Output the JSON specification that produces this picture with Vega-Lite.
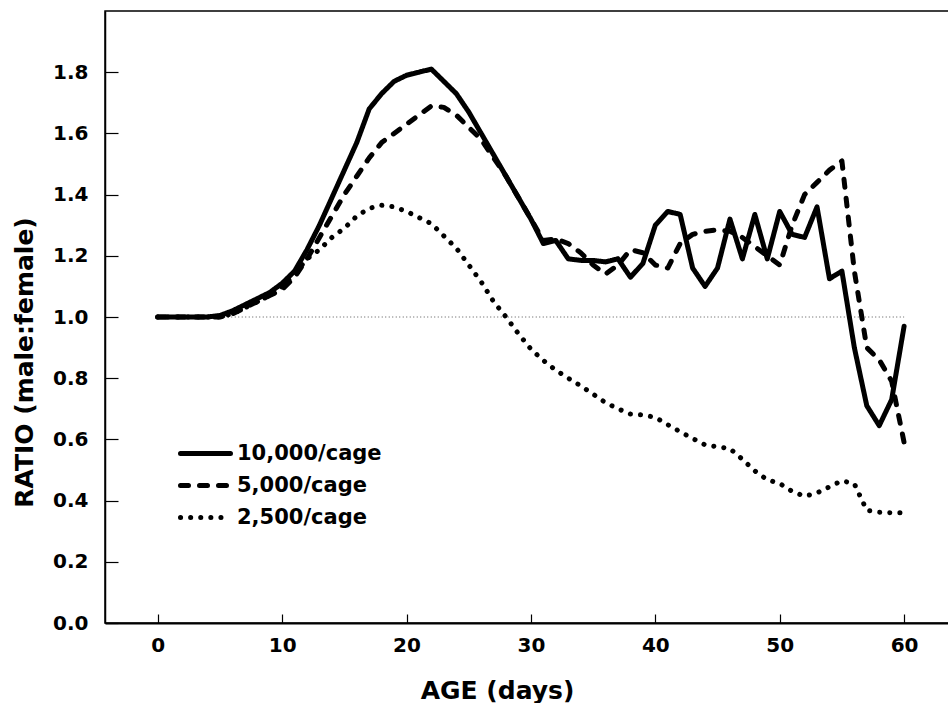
{
  "$schema": "https://vega.github.io/schema/vega-lite/v6.json",
  "autosize": "none",
  "width": 846,
  "height": 612,
  "padding": {"left": 105, "top": 11, "right": 0, "bottom": 80},
  "background": "white",
  "config": {
    "font": "DejaVu Sans",
    "view": {"stroke": "black", "strokeWidth": 1.5},
    "axis": {"grid": false, "domainColor": "black", "tickColor": "black", "labelColor": "black", "titleColor": "black", "labelFontWeight": "bold", "titleFontWeight": "bold", "labelFont": "DejaVu Sans", "titleFont": "DejaVu Sans"}
  },
  "datasets": {
    "series": [
      {"day": 0, "ratio": 1.0, "cage": "10,000/cage"},
      {"day": 1, "ratio": 1.0, "cage": "10,000/cage"},
      {"day": 2, "ratio": 1.0, "cage": "10,000/cage"},
      {"day": 3, "ratio": 1.0, "cage": "10,000/cage"},
      {"day": 4, "ratio": 1.0, "cage": "10,000/cage"},
      {"day": 5, "ratio": 1.005, "cage": "10,000/cage"},
      {"day": 6, "ratio": 1.02, "cage": "10,000/cage"},
      {"day": 7, "ratio": 1.04, "cage": "10,000/cage"},
      {"day": 8, "ratio": 1.06, "cage": "10,000/cage"},
      {"day": 9, "ratio": 1.08, "cage": "10,000/cage"},
      {"day": 10, "ratio": 1.11, "cage": "10,000/cage"},
      {"day": 11, "ratio": 1.15, "cage": "10,000/cage"},
      {"day": 12, "ratio": 1.22, "cage": "10,000/cage"},
      {"day": 13, "ratio": 1.30, "cage": "10,000/cage"},
      {"day": 14, "ratio": 1.39, "cage": "10,000/cage"},
      {"day": 15, "ratio": 1.48, "cage": "10,000/cage"},
      {"day": 16, "ratio": 1.57, "cage": "10,000/cage"},
      {"day": 17, "ratio": 1.68, "cage": "10,000/cage"},
      {"day": 18, "ratio": 1.73, "cage": "10,000/cage"},
      {"day": 19, "ratio": 1.77, "cage": "10,000/cage"},
      {"day": 20, "ratio": 1.79, "cage": "10,000/cage"},
      {"day": 21, "ratio": 1.80, "cage": "10,000/cage"},
      {"day": 22, "ratio": 1.81, "cage": "10,000/cage"},
      {"day": 23, "ratio": 1.77, "cage": "10,000/cage"},
      {"day": 24, "ratio": 1.73, "cage": "10,000/cage"},
      {"day": 25, "ratio": 1.67, "cage": "10,000/cage"},
      {"day": 26, "ratio": 1.60, "cage": "10,000/cage"},
      {"day": 27, "ratio": 1.53, "cage": "10,000/cage"},
      {"day": 28, "ratio": 1.46, "cage": "10,000/cage"},
      {"day": 29, "ratio": 1.39, "cage": "10,000/cage"},
      {"day": 30, "ratio": 1.32, "cage": "10,000/cage"},
      {"day": 31, "ratio": 1.24, "cage": "10,000/cage"},
      {"day": 32, "ratio": 1.25, "cage": "10,000/cage"},
      {"day": 33, "ratio": 1.19, "cage": "10,000/cage"},
      {"day": 34, "ratio": 1.185, "cage": "10,000/cage"},
      {"day": 35, "ratio": 1.185, "cage": "10,000/cage"},
      {"day": 36, "ratio": 1.18, "cage": "10,000/cage"},
      {"day": 37, "ratio": 1.19, "cage": "10,000/cage"},
      {"day": 38, "ratio": 1.13, "cage": "10,000/cage"},
      {"day": 39, "ratio": 1.175, "cage": "10,000/cage"},
      {"day": 40, "ratio": 1.30, "cage": "10,000/cage"},
      {"day": 41, "ratio": 1.345, "cage": "10,000/cage"},
      {"day": 42, "ratio": 1.335, "cage": "10,000/cage"},
      {"day": 43, "ratio": 1.16, "cage": "10,000/cage"},
      {"day": 44, "ratio": 1.10, "cage": "10,000/cage"},
      {"day": 45, "ratio": 1.16, "cage": "10,000/cage"},
      {"day": 46, "ratio": 1.32, "cage": "10,000/cage"},
      {"day": 47, "ratio": 1.19, "cage": "10,000/cage"},
      {"day": 48, "ratio": 1.335, "cage": "10,000/cage"},
      {"day": 49, "ratio": 1.19, "cage": "10,000/cage"},
      {"day": 50, "ratio": 1.345, "cage": "10,000/cage"},
      {"day": 51, "ratio": 1.27, "cage": "10,000/cage"},
      {"day": 52, "ratio": 1.26, "cage": "10,000/cage"},
      {"day": 53, "ratio": 1.36, "cage": "10,000/cage"},
      {"day": 54, "ratio": 1.125, "cage": "10,000/cage"},
      {"day": 55, "ratio": 1.15, "cage": "10,000/cage"},
      {"day": 56, "ratio": 0.90, "cage": "10,000/cage"},
      {"day": 57, "ratio": 0.71, "cage": "10,000/cage"},
      {"day": 58, "ratio": 0.645, "cage": "10,000/cage"},
      {"day": 59, "ratio": 0.73, "cage": "10,000/cage"},
      {"day": 60, "ratio": 0.97, "cage": "10,000/cage"},

      {"day": 0, "ratio": 1.0, "cage": "5,000/cage"},
      {"day": 1, "ratio": 1.0, "cage": "5,000/cage"},
      {"day": 2, "ratio": 1.0, "cage": "5,000/cage"},
      {"day": 3, "ratio": 1.0, "cage": "5,000/cage"},
      {"day": 4, "ratio": 1.0, "cage": "5,000/cage"},
      {"day": 5, "ratio": 1.0, "cage": "5,000/cage"},
      {"day": 6, "ratio": 1.01, "cage": "5,000/cage"},
      {"day": 7, "ratio": 1.03, "cage": "5,000/cage"},
      {"day": 8, "ratio": 1.05, "cage": "5,000/cage"},
      {"day": 9, "ratio": 1.07, "cage": "5,000/cage"},
      {"day": 10, "ratio": 1.09, "cage": "5,000/cage"},
      {"day": 11, "ratio": 1.13, "cage": "5,000/cage"},
      {"day": 12, "ratio": 1.19, "cage": "5,000/cage"},
      {"day": 13, "ratio": 1.26, "cage": "5,000/cage"},
      {"day": 14, "ratio": 1.33, "cage": "5,000/cage"},
      {"day": 15, "ratio": 1.40, "cage": "5,000/cage"},
      {"day": 16, "ratio": 1.46, "cage": "5,000/cage"},
      {"day": 17, "ratio": 1.52, "cage": "5,000/cage"},
      {"day": 18, "ratio": 1.57, "cage": "5,000/cage"},
      {"day": 19, "ratio": 1.60, "cage": "5,000/cage"},
      {"day": 20, "ratio": 1.63, "cage": "5,000/cage"},
      {"day": 21, "ratio": 1.66, "cage": "5,000/cage"},
      {"day": 22, "ratio": 1.69, "cage": "5,000/cage"},
      {"day": 23, "ratio": 1.685, "cage": "5,000/cage"},
      {"day": 24, "ratio": 1.66, "cage": "5,000/cage"},
      {"day": 25, "ratio": 1.62, "cage": "5,000/cage"},
      {"day": 26, "ratio": 1.58, "cage": "5,000/cage"},
      {"day": 27, "ratio": 1.52, "cage": "5,000/cage"},
      {"day": 28, "ratio": 1.46, "cage": "5,000/cage"},
      {"day": 29, "ratio": 1.39, "cage": "5,000/cage"},
      {"day": 30, "ratio": 1.32, "cage": "5,000/cage"},
      {"day": 31, "ratio": 1.25, "cage": "5,000/cage"},
      {"day": 32, "ratio": 1.255, "cage": "5,000/cage"},
      {"day": 33, "ratio": 1.24, "cage": "5,000/cage"},
      {"day": 34, "ratio": 1.21, "cage": "5,000/cage"},
      {"day": 35, "ratio": 1.17, "cage": "5,000/cage"},
      {"day": 36, "ratio": 1.14, "cage": "5,000/cage"},
      {"day": 37, "ratio": 1.17, "cage": "5,000/cage"},
      {"day": 38, "ratio": 1.22, "cage": "5,000/cage"},
      {"day": 39, "ratio": 1.21, "cage": "5,000/cage"},
      {"day": 40, "ratio": 1.17, "cage": "5,000/cage"},
      {"day": 41, "ratio": 1.16, "cage": "5,000/cage"},
      {"day": 42, "ratio": 1.24, "cage": "5,000/cage"},
      {"day": 43, "ratio": 1.27, "cage": "5,000/cage"},
      {"day": 44, "ratio": 1.28, "cage": "5,000/cage"},
      {"day": 45, "ratio": 1.285, "cage": "5,000/cage"},
      {"day": 46, "ratio": 1.28, "cage": "5,000/cage"},
      {"day": 47, "ratio": 1.26, "cage": "5,000/cage"},
      {"day": 48, "ratio": 1.23, "cage": "5,000/cage"},
      {"day": 49, "ratio": 1.20, "cage": "5,000/cage"},
      {"day": 50, "ratio": 1.17, "cage": "5,000/cage"},
      {"day": 51, "ratio": 1.30, "cage": "5,000/cage"},
      {"day": 52, "ratio": 1.40, "cage": "5,000/cage"},
      {"day": 53, "ratio": 1.44, "cage": "5,000/cage"},
      {"day": 54, "ratio": 1.48, "cage": "5,000/cage"},
      {"day": 55, "ratio": 1.51, "cage": "5,000/cage"},
      {"day": 56, "ratio": 1.15, "cage": "5,000/cage"},
      {"day": 57, "ratio": 0.90, "cage": "5,000/cage"},
      {"day": 58, "ratio": 0.86, "cage": "5,000/cage"},
      {"day": 59, "ratio": 0.79, "cage": "5,000/cage"},
      {"day": 60, "ratio": 0.59, "cage": "5,000/cage"},

      {"day": 0, "ratio": 1.0, "cage": "2,500/cage"},
      {"day": 1, "ratio": 1.0, "cage": "2,500/cage"},
      {"day": 2, "ratio": 1.0, "cage": "2,500/cage"},
      {"day": 3, "ratio": 1.0, "cage": "2,500/cage"},
      {"day": 4, "ratio": 1.0, "cage": "2,500/cage"},
      {"day": 5, "ratio": 1.0, "cage": "2,500/cage"},
      {"day": 6, "ratio": 1.01, "cage": "2,500/cage"},
      {"day": 7, "ratio": 1.03, "cage": "2,500/cage"},
      {"day": 8, "ratio": 1.05, "cage": "2,500/cage"},
      {"day": 9, "ratio": 1.07, "cage": "2,500/cage"},
      {"day": 10, "ratio": 1.10, "cage": "2,500/cage"},
      {"day": 11, "ratio": 1.14, "cage": "2,500/cage"},
      {"day": 12, "ratio": 1.19, "cage": "2,500/cage"},
      {"day": 13, "ratio": 1.22, "cage": "2,500/cage"},
      {"day": 14, "ratio": 1.26, "cage": "2,500/cage"},
      {"day": 15, "ratio": 1.29, "cage": "2,500/cage"},
      {"day": 16, "ratio": 1.33, "cage": "2,500/cage"},
      {"day": 17, "ratio": 1.355, "cage": "2,500/cage"},
      {"day": 18, "ratio": 1.365, "cage": "2,500/cage"},
      {"day": 19, "ratio": 1.36, "cage": "2,500/cage"},
      {"day": 20, "ratio": 1.345, "cage": "2,500/cage"},
      {"day": 21, "ratio": 1.325, "cage": "2,500/cage"},
      {"day": 22, "ratio": 1.305, "cage": "2,500/cage"},
      {"day": 23, "ratio": 1.265, "cage": "2,500/cage"},
      {"day": 24, "ratio": 1.225, "cage": "2,500/cage"},
      {"day": 25, "ratio": 1.17, "cage": "2,500/cage"},
      {"day": 26, "ratio": 1.115, "cage": "2,500/cage"},
      {"day": 27, "ratio": 1.05, "cage": "2,500/cage"},
      {"day": 28, "ratio": 1.00, "cage": "2,500/cage"},
      {"day": 29, "ratio": 0.945, "cage": "2,500/cage"},
      {"day": 30, "ratio": 0.895, "cage": "2,500/cage"},
      {"day": 31, "ratio": 0.858, "cage": "2,500/cage"},
      {"day": 32, "ratio": 0.826, "cage": "2,500/cage"},
      {"day": 33, "ratio": 0.80, "cage": "2,500/cage"},
      {"day": 34, "ratio": 0.775, "cage": "2,500/cage"},
      {"day": 35, "ratio": 0.748, "cage": "2,500/cage"},
      {"day": 36, "ratio": 0.72, "cage": "2,500/cage"},
      {"day": 37, "ratio": 0.70, "cage": "2,500/cage"},
      {"day": 38, "ratio": 0.683, "cage": "2,500/cage"},
      {"day": 39, "ratio": 0.68, "cage": "2,500/cage"},
      {"day": 40, "ratio": 0.672, "cage": "2,500/cage"},
      {"day": 41, "ratio": 0.648, "cage": "2,500/cage"},
      {"day": 42, "ratio": 0.625, "cage": "2,500/cage"},
      {"day": 43, "ratio": 0.603, "cage": "2,500/cage"},
      {"day": 44, "ratio": 0.582, "cage": "2,500/cage"},
      {"day": 45, "ratio": 0.576, "cage": "2,500/cage"},
      {"day": 46, "ratio": 0.57, "cage": "2,500/cage"},
      {"day": 47, "ratio": 0.535, "cage": "2,500/cage"},
      {"day": 48, "ratio": 0.497, "cage": "2,500/cage"},
      {"day": 49, "ratio": 0.468, "cage": "2,500/cage"},
      {"day": 50, "ratio": 0.456, "cage": "2,500/cage"},
      {"day": 51, "ratio": 0.43, "cage": "2,500/cage"},
      {"day": 52, "ratio": 0.414, "cage": "2,500/cage"},
      {"day": 53, "ratio": 0.425, "cage": "2,500/cage"},
      {"day": 54, "ratio": 0.445, "cage": "2,500/cage"},
      {"day": 55, "ratio": 0.465, "cage": "2,500/cage"},
      {"day": 56, "ratio": 0.455, "cage": "2,500/cage"},
      {"day": 57, "ratio": 0.368, "cage": "2,500/cage"},
      {"day": 58, "ratio": 0.362, "cage": "2,500/cage"},
      {"day": 59, "ratio": 0.36, "cage": "2,500/cage"},
      {"day": 60, "ratio": 0.36, "cage": "2,500/cage"}
    ],
    "refline": [{"x0": 0, "x1": 60, "y": 1.0}]
  },
  "layer": [
    {
      "data": {"name": "refline"},
      "mark": {"type": "rule", "color": "#555555", "strokeWidth": 1, "strokeDash": [1, 2.5]},
      "encoding": {
        "x": {"field": "x0", "type": "quantitative"},
        "x2": {"field": "x1"},
        "y": {"field": "y", "type": "quantitative"}
      }
    },
    {
      "data": {"name": "series"},
      "mark": {"type": "line", "color": "black", "strokeWidth": 5, "strokeCap": "round", "strokeJoin": "round"},
      "encoding": {
        "x": {
          "field": "day", "type": "quantitative",
          "scale": {"domain": [-4.24, 63.77], "nice": false, "zero": false},
          "axis": {
            "values": [0, 10, 20, 30, 40, 50, 60],
            "title": "AGE (days)",
            "titleFontSize": 25,
            "titlePadding": 23,
            "titleX": 392,
            "labelFontSize": 20,
            "tickSize": -9,
            "tickWidth": 1.2,
            "labelPadding": 21,
            "domainWidth": 2
          }
        },
        "y": {
          "field": "ratio", "type": "quantitative",
          "scale": {"domain": [0, 2.0], "nice": false},
          "axis": {
            "values": [0, 0.1, 0.2, 0.3, 0.4, 0.5, 0.6, 0.7, 0.8, 0.9, 1.0, 1.1, 1.2, 1.3, 1.4, 1.5, 1.6, 1.7, 1.8, 1.9],
            "labelExpr": "round(datum.value * 10) % 2 == 0 ? format(datum.value, '.1f') : ''",
            "title": "RATIO (male:female)",
            "titleFontSize": 25,
            "titlePadding": 15,
            "titleY": 351,
            "labelFontSize": 20,
            "tickSize": -13,
            "tickWidth": 1.2,
            "labelPadding": 30,
            "domainWidth": 1.5
          }
        },
        "strokeDash": {
          "field": "cage", "type": "nominal",
          "scale": {
            "domain": ["10,000/cage", "5,000/cage", "2,500/cage"],
            "range": [[1, 0], [8, 11], [0.1, 10]]
          },
          "legend": {
            "title": null,
            "orient": "none",
            "legendX": 88,
            "legendY": 430,
            "symbolType": "M -2.5 0 L 2.5 0",
            "symbolSize": 400,
            "symbolStrokeWidth": 5,
            "symbolStrokeColor": "black",
            "symbolFillColor": "transparent",
            "labelFontSize": 21,
            "labelFontWeight": "bold",
            "labelFont": "DejaVu Sans",
            "labelColor": "black",
            "labelOffset": 19,
            "rowPadding": 9,
            "encode": {"symbols": {"update": {"strokeCap": {"value": "round"}}}}
          }
        }
      }
    }
  ]
}
